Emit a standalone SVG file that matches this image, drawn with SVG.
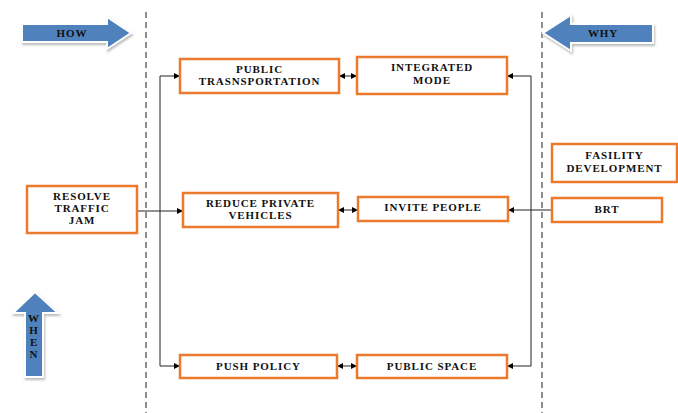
<svg xmlns="http://www.w3.org/2000/svg" width="678" height="413" viewBox="0 0 678 413">
<defs>
<marker id="ah" viewBox="0 0 10 10" refX="10" refY="5" markerWidth="7" markerHeight="6" markerUnits="userSpaceOnUse" orient="auto-start-reverse">
<path d="M0,0 L10,5 L0,10 z" fill="#000"/>
</marker>
</defs>
<style>
.box{fill:#fff;stroke:#EC7A2C;stroke-width:2.5}
.t{font-family:'Liberation Serif','DejaVu Serif',serif;font-weight:bold;font-size:11px;letter-spacing:0.9px;fill:#111;text-anchor:middle}
.c{fill:none;stroke:#222;stroke-width:1}
.dash{stroke:#444;stroke-width:1.2;stroke-dasharray:6,4}
.arr{fill:#4F81BD;stroke:#fff;stroke-width:2}
</style>
<rect width="678" height="413" fill="#fff"/>
<g id="dividers">
<line class="dash" x1="146" y1="12" x2="146" y2="413"/>
<line class="dash" x1="542" y1="12" x2="542" y2="413"/>
</g>
<g id="how">
<path class="arr" d="M22,24 H107 V17 L131,33 L107,49 V42 H22 Z" filter="drop-shadow(1px 2px 1px #bbb)"/>
<text class="t" x="72" y="37">HOW</text>
</g>
<g id="why">
<path class="arr" d="M653,24 H571 V15 L543,33 L571,51 V43 H653 Z" filter="drop-shadow(1px 2px 1px #bbb)"/>
<text class="t" x="603" y="37">WHY</text>
</g>
<g id="when">
<path class="arr" d="M25,377 V313 H13 L35,292 L58,313 H43 V377 Z" filter="drop-shadow(1px 2px 1px #bbb)"/>
<text class="t" x="34" y="322">W</text>
<text class="t" x="34" y="334">H</text>
<text class="t" x="34" y="346">E</text>
<text class="t" x="34" y="358">N</text>
</g>
<g id="connectors">
<path class="c" d="M137,211 H183" marker-end="url(#ah)"/>
<path class="c" d="M180,76 H160 V366 H180" marker-start="url(#ah)" marker-end="url(#ah)"/>
<path class="c" d="M507,76 H531 V366 H507" marker-start="url(#ah)" marker-end="url(#ah)"/>
<path class="c" d="M552,210 H508" marker-end="url(#ah)"/>
<path class="c" d="M339,76 H357" marker-start="url(#ah)" marker-end="url(#ah)"/>
<path class="c" d="M338,210 H358" marker-start="url(#ah)" marker-end="url(#ah)"/>
<path class="c" d="M337,366 H357" marker-start="url(#ah)" marker-end="url(#ah)"/>
</g>
<g id="public-transportation">
<rect class="box" x="180" y="59" width="159" height="34"/>
<text class="t" x="259.5" y="73">PUBLIC</text>
<text class="t" x="259.5" y="85">TRASNSPORTATION</text>
</g>
<g id="integrated-mode">
<rect class="box" x="357" y="57" width="150" height="37"/>
<text class="t" x="432" y="71">INTEGRATED</text>
<text class="t" x="432" y="84">MODE</text>
</g>
<g id="resolve-traffic-jam">
<rect class="box" x="27" y="186" width="110" height="47"/>
<text class="t" x="82" y="200">RESOLVE</text>
<text class="t" x="82" y="212">TRAFFIC</text>
<text class="t" x="82" y="224">JAM</text>
</g>
<g id="reduce-private-vehicles">
<rect class="box" x="183" y="193" width="155" height="34"/>
<text class="t" x="260.5" y="207">REDUCE PRIVATE</text>
<text class="t" x="260.5" y="219">VEHICLES</text>
</g>
<g id="invite-people">
<rect class="box" x="358" y="197" width="150" height="24"/>
<text class="t" x="433" y="211">INVITE PEOPLE</text>
</g>
<g id="fasility-development">
<rect class="box" x="552" y="144" width="125" height="38"/>
<text class="t" x="614.5" y="159">FASILITY</text>
<text class="t" x="614.5" y="172">DEVELOPMENT</text>
</g>
<g id="brt">
<rect class="box" x="552" y="198" width="110" height="24"/>
<text class="t" x="607" y="213">BRT</text>
</g>
<g id="push-policy">
<rect class="box" x="180" y="355" width="157" height="23"/>
<text class="t" x="258.5" y="370">PUSH POLICY</text>
</g>
<g id="public-space">
<rect class="box" x="357" y="355" width="150" height="23"/>
<text class="t" x="432" y="370">PUBLIC SPACE</text>
</g>
</svg>
